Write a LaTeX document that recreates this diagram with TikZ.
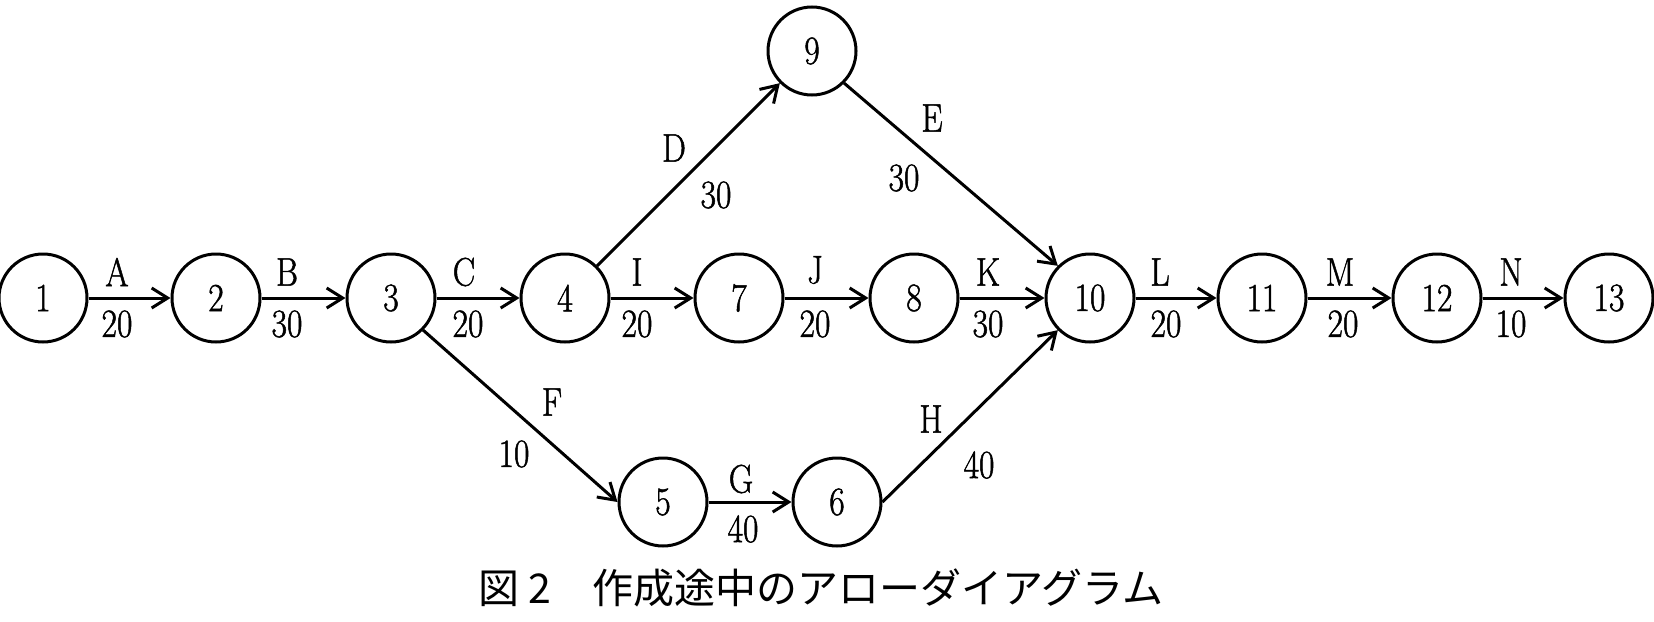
\documentclass[tikz,border=0pt]{standalone}
\usepackage{fontspec}
\setmainfont{Latin Modern Roman}[FakeStretch=0.84,FakeBold=1.2]
\newfontfamily\cjk{Noto Sans CJK JP}
\usetikzlibrary{arrows.meta}
\begin{document}
\begin{tikzpicture}[x=0.5pt,y=-0.5pt,
  ev/.style={circle,draw,line width=1.5pt,minimum size=44pt,inner sep=0pt,font=\fontsize{20}{24}\selectfont},
  act/.style={line width=1.5pt,-{Straight Barb[length=8pt,width=10pt,line width=1.5pt]}},
  lab/.style={inner sep=0pt,font=\fontsize{20}{24}\selectfont}]
\useasboundingbox[fill=white] (0,0) rectangle (1654,621);
% events
\node[ev] (n1) at (43,298) {1};
\node[ev] (n2) at (216,298) {2};
\node[ev] (n3) at (391,298) {3};
\node[ev] (n4) at (565,298) {4};
\node[ev] (n7) at (739,298) {7};
\node[ev] (n8) at (914,298) {8};
\node[ev] (n10) at (1090,298) {10};
\node[ev] (n11) at (1262,298) {11};
\node[ev] (n12) at (1437,298) {12};
\node[ev] (n13) at (1609,298) {13};
\node[ev] (n9) at (812,51) {9};
\node[ev] (n5) at (663,502) {5};
\node[ev] (n6) at (837,502) {6};
% activities
\draw[act] (n1) -- (n2);
\draw[act] (n2) -- (n3);
\draw[act] (n3) -- (n4);
\draw[act] (n4) -- (n7);
\draw[act] (n7) -- (n8);
\draw[act] (n8) -- (n10);
\draw[act] (n10) -- (n11);
\draw[act] (n11) -- (n12);
\draw[act] (n12) -- (n13);
\draw[act] (n4.north east) -- (n9.south west);
\draw[act] (n9.south east) -- (n10.north west);
\draw[act] (n3.south east) -- (n5.west);
\draw[act] (n5) -- (n6);
\draw[act] (n6.east) -- (n10.south west);
% labels
\node[lab] (la) at (117,272) {A};  \node[lab] (ta) at (117,324) {20};
\node[lab] (lb) at (287,272) {B};  \node[lab] (tb) at (287,324) {30};
\node[lab] (lc) at (464,272) {C};  \node[lab] (tc) at (468,324) {20};
\node[lab] (li) at (637,272) {I};  \node[lab] (ti) at (637,324) {20};
\node[lab] (lj) at (815,270) {J};  \node[lab] (tj) at (815,324) {20};
\node[lab] (lk) at (988,272) {K};  \node[lab] (tk) at (988,324) {30};
\node[lab] (ll) at (1160,272) {L}; \node[lab] (tl) at (1166,324) {20};
\node[lab] (lm) at (1340,272) {M}; \node[lab] (tm) at (1343,324) {20};
\node[lab] (ln) at (1511,272) {N}; \node[lab] (tn) at (1511,324) {10};
\node[lab] (ld) at (674,148) {D};  \node[lab] (td) at (716,195) {30};
\node[lab] (le) at (932,118) {E};  \node[lab] (te) at (904,178) {30};
\node[lab] (lf) at (552,402) {F};  \node[lab] (tf) at (514,454) {10};
\node[lab] (lg) at (741,479) {G};  \node[lab] (tg) at (743,529) {40};
\node[lab] (lh) at (931,419) {H};  \node[lab] (th) at (979,465) {40};
% caption
\node[inner sep=0pt,anchor=west,font=\cjk\fontsize{20.5}{24}\selectfont] (cap) at (478,588) {図 2　作成途中のアローダイアグラム};
\end{tikzpicture}
\end{document}
